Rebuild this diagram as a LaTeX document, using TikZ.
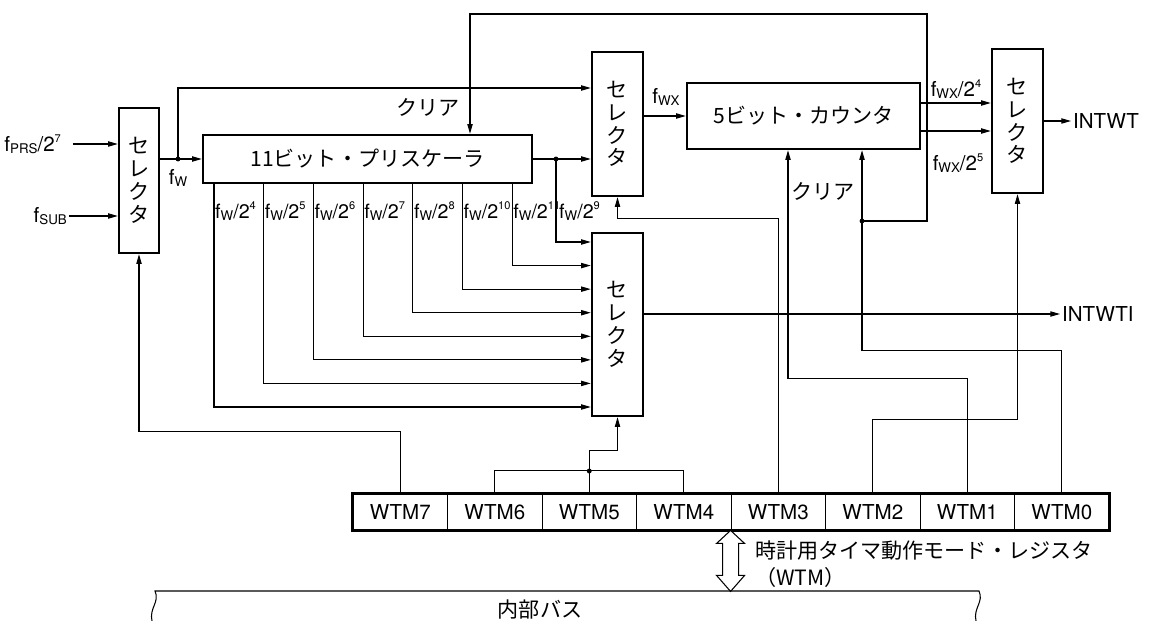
\documentclass[tikz,border=0pt]{standalone}
\usepackage{fontspec}
\setmainfont{TeX Gyre Heros}
\newfontfamily\jp{Noto Sans CJK JP}
\usetikzlibrary{arrows.meta}
\newcommand{\fsub}[1]{\raisebox{-0.2ex}{\fontsize{7.6}{9}\selectfont #1}}
\newcommand{\fsup}[1]{\raisebox{0.85ex}{\fontsize{6.3}{8}\selectfont #1}}
\tikzset{
  wire/.style={line width=0.6pt},
  arr/.style={wire,-{Triangle[length=5.5pt,width=3pt]}},
  blk/.style={draw,line width=1.4pt,inner sep=0pt,font=\jp\fontsize{12}{13}\selectfont},
  selbox/.style={blk,align=center,minimum width=1.02cm,minimum height=2.88cm},
  cell/.style={draw,line width=0.5pt,minimum width=1.89cm,minimum height=0.72cm,inner sep=0pt},
  lbl/.style={inner sep=1pt},
  taplbl/.style={inner sep=0.5pt,anchor=west,font=\fontsize{11.2}{13}\selectfont},
  jlbl/.style={inner sep=1pt,font=\jp\fontsize{12}{14}\selectfont}
}

\begin{document}
\begin{tikzpicture}[x=0.02cm,y=-0.02cm,font=\fontsize{11.7}{14}\selectfont]
  \useasboundingbox (0,0) rectangle (1151,621);
  % blocks
  \node[selbox,minimum width=0.8cm,minimum height=2.9cm] (selA) at (139,180.5) {セ\\レ\\ク\\タ};
  \node[blk,minimum width=6.58cm,minimum height=0.96cm] (pre) at (367.5,159) {11ビット・プリスケーラ};
  \node[selbox] (selB) at (617.5,124) {セ\\レ\\ク\\タ};
  \node[selbox,minimum height=3.66cm] (selC) at (617.5,324.5) {セ\\レ\\ク\\タ};
  \node[blk,minimum width=4.66cm,minimum height=1.32cm] (cnt) at (803.5,116) {5ビット・カウンタ};
  \node[selbox] (selD) at (1017.5,121) {セ\\レ\\ク\\タ};

  % register WTM
  \foreach \n [count=\k from 0] in {7,6,5,4,3,2,1,0}
    \node[cell] (wtm\n) at ({353+94.5*(\k+0.5)},512) {WTM\n};
  \draw[line width=1.4pt] (wtm7.north west) rectangle (wtm0.south east);

  % clock inputs
  \node[lbl,anchor=east] (inprs) at (63,144) {f\fsub{PRS}/2\fsup{7}};
  \node[lbl,anchor=east] (insub) at (69,216) {f\fsub{SUB}};
  \draw[arr] ([xshift=0.2cm]inprs.east) -- (selA.west |- inprs.east);
  \draw[arr] (insub.east) -- (selA.west |- insub.east);

  % fw
  \coordinate (fw) at (178,159);
  \draw[arr] (selA.east |- pre.west) -- (pre.west);
  \draw[arr] (fw) |- (selB.west |- 0,88);
  \fill (fw) circle (1.4pt);
  \node[lbl] (fwlbl) at (178,178) {f\fsub{W}};

  % prescaler outputs
  \coordinate (pout) at (556,159);
  \draw[arr] (pre.east) -- (selB.west |- pre.east);
  \draw[arr] (pout) |- (selC.west |- 0,242);
  \fill (pout) circle (1.4pt);
  \node[taplbl] (tap9) at (558,211) {f\fsub{W}/2\fsup{9}};
  \foreach \k/\p [evaluate=\k as \tx using 214+49.7*\k,
                  evaluate=\k as \ty using 242+23.57*(7-\k)]
      in {0/4,1/5,2/6,3/7,4/8,5/10,6/11} {
    \draw[arr] (\tx,0 |- pre.south) |- (selC.west |- 0,\ty);
    \node[taplbl] (tap\p) at (\tx,211) {f\fsub{W}/2\fsup{\p}};
  }

  % counter and outputs
  \draw[arr] (selB.east |- cnt.west) -- (cnt.west);
  \node[lbl] (fwx) at (666,97) {f\fsub{WX}};
  \draw[arr] (cnt.east |- 0,103) -- (selD.west |- 0,103);
  \draw[arr] (cnt.east |- 0,131) -- (selD.west |- 0,131);
  \node[lbl] (fwx4) at (956,89) {f\fsub{WX}/2\fsup{4}};
  \node[lbl] (fwx5) at (958,163) {f\fsub{WX}/2\fsup{5}};
  \node[lbl,anchor=west] (intwt) at (1071,121) {INTWT};
  \draw[arr] (selD.east |- intwt.west) -- (intwt.west);
  \node[lbl,anchor=west] (intwti) at (1060,314) {INTWTI};
  \draw[arr] (selC.east |- intwti.west) -- (intwti.west);

  % clear lines
  \coordinate (clr) at (862,221);
  \draw[arr] (clr) -| (927,14) -| (470,0 |- pre.north);
  \draw[arr] (wtm0.north) -- ++(0,-143) -| (clr |- cnt.south);
  \fill (clr) circle (1.4pt);
  \node[jlbl] (clr1) at (428,107) {クリア};
  \node[jlbl] (clr2) at (823,191) {クリア};

  % register bits to selectors
  \draw[arr] (wtm7.north) -- ++(0,-62) -| (selA.south);
  \draw[wire] (wtm6.north) -- ++(0,-23) -| (wtm4.north);
  \draw[arr] (wtm5.north) -- ++(0,-43) -| (selC.south);
  \fill (wtm5.north |- 0,471) circle (1.4pt);
  \draw[arr] (wtm3.north) -- ++(0,-275) -| (selB.south);
  \draw[arr] (wtm2.north) -- ++(0,-74) -| (selD.south);
  \draw[arr] (wtm1.north) -- ++(0,-115) -| (788,0 |- cnt.south);

  % internal bus
  \draw[wire,fill=white] (wtm3.south west) -- ++(14,13) -- ++(-6,0) -- ++(0,32)
    -- ++(6,0) -- ++(-14,16) -- ++(-14,-16) -- ++(6,0) -- ++(0,-32) -- ++(-6,0) -- cycle;
  \draw[wire] (152,621) .. controls (149,608) and (160,602) .. (155,591) -- (979,591)
    .. controls (984,602) and (973,608) .. (976,621);
  \node[jlbl] (bus) at (540,610) {内部バス};
  \node[jlbl,anchor=west] (wtmname) at (753,551) {時計用タイマ動作モード・レジスタ};
  \node[jlbl,anchor=west] (wtmabbr) at (753,577) {（WTM）};
\end{tikzpicture}
\end{document}
